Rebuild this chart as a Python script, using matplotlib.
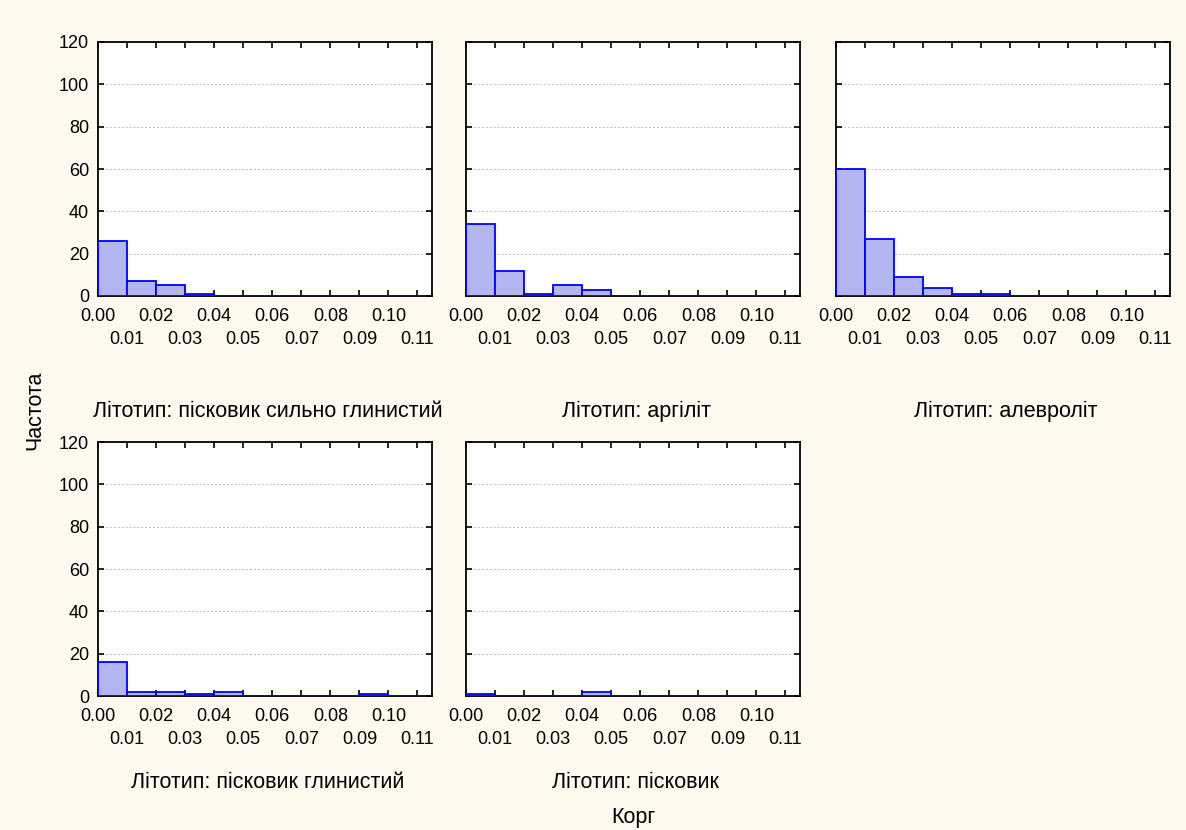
import numpy as np
import matplotlib
matplotlib.use("Agg")
import matplotlib.pyplot as plt
from matplotlib.ticker import FixedLocator

plt.rcParams['font.family'] = ['Liberation Sans', 'DejaVu Sans']

# Bin edges of Корг (width 0.01)
bin_edges = [0.00, 0.01, 0.02, 0.03, 0.04, 0.05, 0.06, 0.07, 0.08, 0.09, 0.10, 0.11]

titles = [
    "Літотип: пісковик сильно глинистий",
    "Літотип: аргіліт",
    "Літотип: алевроліт",
    "Літотип: пісковик глинистий",
    "Літотип: пісковик",
]

counts_sandstone_strong_clay = [26, 7, 5, 1, 0, 0, 0, 0, 0, 0, 0]
counts_argillite = [34, 12, 1, 5, 3, 0, 0, 0, 0, 0, 0]
counts_siltstone = [60, 27, 9, 4, 1, 1, 0, 0, 0, 0, 0]
counts_sandstone_clay = [16, 2, 2, 1, 2, 0, 0, 0, 0, 1, 0]
counts_sandstone = [1, 0, 0, 0, 2, 0, 0, 0, 0, 0, 0]

all_counts = [counts_sandstone_strong_clay, counts_argillite, counts_siltstone,
              counts_sandstone_clay, counts_sandstone]

major_xticks = [0.00, 0.02, 0.04, 0.06, 0.08, 0.10]
minor_xticks = [0.01, 0.03, 0.05, 0.07, 0.09, 0.11]
yticks = [0, 20, 40, 60, 80, 100, 120]

W, H = 1186, 830
fig = plt.figure(figsize=(W / 100, H / 100), dpi=100)
fig.patch.set_facecolor('#fdf9ee')

lefts = [98, 466, 836]
tops = [42, 442]
aw, ah = 334, 254
title_baselines = [417, 788]

positions = [(lefts[0], tops[0], 0), (lefts[1], tops[0], 0), (lefts[2], tops[0], 0),
             (lefts[0], tops[1], 1), (lefts[1], tops[1], 1)]

edges = np.array(bin_edges)
for i, ((lx, ty, row), counts, title) in enumerate(zip(positions, all_counts, titles)):
    ax = fig.add_axes([lx / W, 1 - (ty + ah) / H, aw / W, ah / H])
    ax.set_facecolor('white')
    ax.bar(edges[:-1], counts, width=np.diff(edges), align='edge',
           color='#b4b6f2', edgecolor='#0000ff', linewidth=1.3, zorder=3)
    ax.set_xlim(0, 0.115)
    ax.set_ylim(0, 120)
    ax.yaxis.set_major_locator(FixedLocator(yticks))
    ax.grid(axis='y', color='#bdbdbd', linestyle=(0, (2, 2)), linewidth=0.7, zorder=0)
    ax.set_axisbelow(True)
    ax.xaxis.set_major_locator(FixedLocator(major_xticks))
    ax.xaxis.set_minor_locator(FixedLocator(minor_xticks))
    ax.set_xticklabels([f"{v:.2f}" for v in major_xticks])
    ax.set_xticklabels([f"{v:.2f}" for v in minor_xticks], minor=True)
    ax.tick_params(axis='x', which='major', direction='in', length=4, width=1.2,
                   top=True, labelsize=13, pad=8.5)
    ax.tick_params(axis='x', which='minor', direction='in', length=4, width=1.2,
                   top=True, labelsize=13, pad=25)
    ax.tick_params(axis='y', direction='in', length=4, width=1.2, right=True,
                   labelsize=13, pad=6.5)
    if i not in (0, 3):
        ax.tick_params(axis='y', labelleft=False)
    for s in ax.spines.values():
        s.set_linewidth(1.3)
        s.set_color('black')
    cx = (lx + aw / 2 + 3) / W
    fig.text(cx, 1 - title_baselines[row] / H, title, ha='center', va='baseline',
             fontsize=15.5)

fig.text(35 / W, 1 - 410 / H, "Частота", rotation=90, ha='center', va='center',
         fontsize=15.5)
fig.text(633 / W, 1 - 823 / H, "Корг", ha='center', va='baseline', fontsize=15.5)

fig.savefig("out.png", dpi=100, facecolor=fig.get_facecolor())
